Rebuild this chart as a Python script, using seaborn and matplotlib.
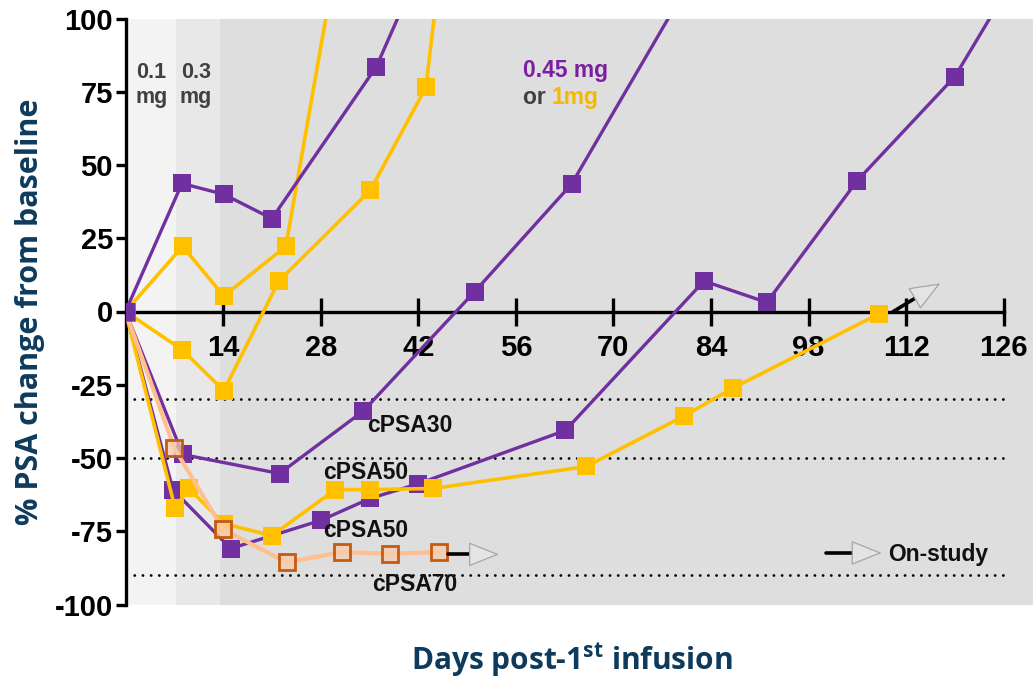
import matplotlib
matplotlib.use("Agg")
import matplotlib.pyplot as plt
import seaborn as sns
import pandas as pd

# ---------------- data ----------------
p1_day = [0, 8.1, 14.1, 21.0, 36.0, 42.0]
p1_val = [0, 43.7, 40.0, 31.7, 83.6, 116]
p2_day = [0, 8.2, 22.1, 34.1, 50.1, 64.0, 84.0]
p2_val = [0, -48.8, -55.3, -34.0, 6.8, 43.5, 125]
p3_day = [0, 6.8, 15.1, 28.0, 35.1, 42.0, 63.1, 83.0, 92.0, 105.0, 119.0, 126.0]
p3_val = [0, -60.8, -80.9, -71.3, -63.8, -58.8, -40.6, 10.4, 3.1, 44.7, 80.2, 108]
y1_day = [0, 8.2, 14.1, 23.0, 35.0]
y1_val = [0, 22.2, 5.3, 22.2, 185]
y2_day = [0, 8.1, 14.1, 22.0, 35.1, 43.1, 49.0]
y2_val = [0, -13.0, -27.0, 10.4, 41.3, 76.5, 195]
y3_day = [0, 7.1, 9.1, 14.1, 21.0, 30.1, 35.1, 44.1, 66.1, 80.1, 87.1, 108.1]
y3_val = [0, -67.0, -60.4, -72.4, -76.5, -60.8, -60.8, -60.4, -52.9, -35.7, -26.2, -0.8]
o1_day = [0, 7.0, 14.0, 23.1, 31.1, 37.9, 45.0]
o1_val = [0, -46.6, -74.4, -85.6, -82.1, -82.7, -82.1]

x_ticks = [14, 28, 42, 56, 70, 84, 98, 112, 126]
y_ticks = [-100, -75, -50, -25, 0, 25, 50, 75, 100]
thresholds = [-30, -50, -90]
dose_bounds = [0, 7.2, 13.5]

# on-study arrows: (shaft start, shaft end, tip)
arrow_o1 = [(46.3, -82.9), (49.8, -82.9), (53.6, -82.9)]
arrow_y3 = [(110.1, -0.1), (113.6, 5.0), (116.9, 9.6)]
arrow_legend = [(100.5, -82.4), (105.7, -82.4), (108.5, -82.4)]

# ---------------- style ----------------
sns.set_style("ticks")
plt.rcParams["font.family"] = ["Liberation Sans", "DejaVu Sans"]
plt.rcParams["mathtext.fontset"] = "custom"
plt.rcParams["mathtext.rm"] = "Open Sans"
plt.rcParams["mathtext.bf"] = "Open Sans:bold"

PURPLE = "#7030a0"
GOLD = "#ffc000"
PEACH = "#ffbf8f"
ORANGE_EDGE = "#c55a11"
NAVY = "#0e3b5c"

W, H = 1033, 678
fig = plt.figure(figsize=(W / 100, H / 100), dpi=100)
ax = fig.add_axes([125.5 / W, 1 - 604.5 / H, (W - 125.5) / W, (604.5 - 18.5) / H])
ax.set_facecolor("#dedede")
ax.set_xlim(0, 130.2)
ax.set_ylim(-100, 100)

ax.axvspan(-5, dose_bounds[1], color="#f3f3f3", zorder=0.1, lw=0)
ax.axvspan(dose_bounds[1], dose_bounds[2], color="#e8e8e8", zorder=0.1, lw=0)

for t in thresholds:
    ax.plot([0, 126], [t, t], color="black", lw=2.0, linestyle=(0, (0.05, 2.9)),
            dash_capstyle="round", zorder=1.5)

def series(d, v, color, lw, z):
    df = pd.DataFrame({"day": d, "val": v})
    sns.lineplot(data=df, x="day", y="val", color=color, lw=lw, marker="s",
                 markersize=12.5, markeredgewidth=0, ax=ax, zorder=z,
                 estimator=None, sort=False)

odf = pd.DataFrame({"day": o1_day, "val": o1_val})
sns.lineplot(data=odf, x="day", y="val", color=PEACH, lw=3.0, marker="s",
             markersize=11.5, markeredgewidth=2.0, markeredgecolor=ORANGE_EDGE,
             markerfacecolor=(0.97, 0.80, 0.68, 0.75), ax=ax, zorder=3.2,
             estimator=None, sort=False)

series(y1_day, y1_val, GOLD, 2.6, 2.8)
series(y2_day, y2_val, GOLD, 2.6, 2.8)
series(y3_day, y3_val, GOLD, 2.6, 2.9)
series(p1_day, p1_val, PURPLE, 2.4, 3.3)
series(p2_day, p2_val, PURPLE, 2.4, 3.1)
series(p3_day, p3_val, PURPLE, 2.4, 2.85)

def onstudy(a):
    (x0, y0), (x1, y1), (x2, y2) = a
    ax.plot([x0, x1], [y0, y1], color="black", lw=2.6, solid_capstyle="round", zorder=4)
    ax.annotate("", xy=(x2, y2), xytext=(x1, y1),
                arrowprops=dict(arrowstyle="-|>,head_length=1.0,head_width=0.4",
                                mutation_scale=20, fc="#e4e4e4", ec="#a6a6a6",
                                lw=0.9, shrinkA=0, shrinkB=0), zorder=4)

onstudy(arrow_o1)
onstudy(arrow_y3)
onstudy(arrow_legend)
ax.text(109.4, -83, "On-study", fontsize=16.5, fontweight="bold", ha="left",
        va="center", color="#111111")

# annotation texts
tkw = dict(fontsize=16.5, fontweight="bold", ha="center", va="center", color="#111111", zorder=5)
ax.text(40.8, -38.9, "cPSA30", **tkw)
ax.text(34.5, -55.0, "cPSA50", **tkw)
ax.text(34.5, -74.7, "cPSA50", **tkw)
ax.text(41.5, -93.2, "cPSA70", **tkw)

dkw = dict(fontsize=15.5, fontweight="bold", ha="center", va="center", color="#404040",
           linespacing=1.25, zorder=5)
ax.text(3.7, 77.4, "0.1\nmg", **dkw)
ax.text(10.1, 77.4, "0.3\nmg", **dkw)

ax.text(57.0, 82.3, "0.45 mg", fontsize=16.5, fontweight="bold", color="#7b1fa2",
        ha="left", va="center")
t_or = ax.text(57.0, 73.2, "or ", fontsize=16.5, fontweight="bold", color="#404040",
               ha="left", va="center")
ax.annotate("1mg", xy=(1, 0), xycoords=t_or, fontsize=16.5, fontweight="bold",
            color="#f5b800", ha="left", va="bottom")

# axes styling
for s in ["top", "right"]:
    ax.spines[s].set_visible(False)
ax.spines["bottom"].set_position(("data", 0))
ax.spines["bottom"].set_bounds(0, 126)
ax.spines["left"].set_bounds(-100, 100)
for s in ["bottom", "left"]:
    ax.spines[s].set_linewidth(2.4)
    ax.spines[s].set_color("black")
ax.set_axisbelow(True)

ax.set_xticks(x_ticks)
ax.set_xticklabels([str(v) for v in x_ticks])
ax.set_yticks(y_ticks)
ax.set_yticklabels([str(v) for v in y_ticks])
ax.tick_params(axis="x", bottom=True, top=False, direction="inout", length=20,
               width=2.4, pad=6.5, labelsize=21, colors="black")
ax.tick_params(axis="y", left=True, right=False, direction="out", length=7,
               width=2.4, pad=2, labelsize=21, colors="black")
for lab in ax.get_xticklabels() + ax.get_yticklabels():
    lab.set_fontweight("bold")
ax.set_xlabel("")
ax.set_ylabel("")

fig.text(30 / W, 1 - 312 / H, "% PSA change from baseline", rotation=90,
         ha="center", va="center", fontsize=22, fontweight="bold", color=NAVY,
         family=["Open Sans", "DejaVu Sans"])
fig.text(572 / W, 1 - 660 / H, r"Days post-1$^{\mathbf{st}}$ infusion",
         ha="center", va="center", fontsize=21.5, fontweight="bold", color=NAVY,
         family=["Open Sans", "DejaVu Sans"])

fig.savefig("out.png", dpi=100)
